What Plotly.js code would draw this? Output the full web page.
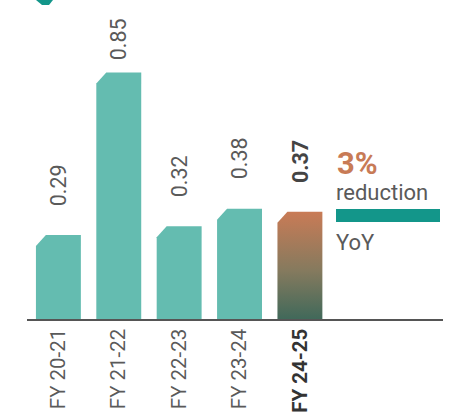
<!DOCTYPE html>
<html>
<head>
<meta charset="utf-8">
<script src="https://cdn.plot.ly/plotly-3.0.1.min.js"></script>
<style>html,body{margin:0;padding:0;background:#fff}#chart{width:449px;height:415px}</style>
</head>
<body>
<div id="chart"></div>
<script>
const categories = ['FY 20-21', 'FY 21-22', 'FY 22-23', 'FY 23-24', 'FY 24-25'];
const values = [0.29, 0.85, 0.32, 0.38, 0.37];
const valueLabels = ['0.29', '0.85', '0.32', '0.38', '0.37'];
const highlightIndex = 4;
const changeText = '3%';
const changeLabel = 'reduction';
const changePeriod = 'YoY';

const teal = '#64bcb0';
const halfW = 0.372, chamferX = 0.165, chamferY = 0.038;

const traces = values.map((v, i) => {
  const xs = [i - halfW, i - halfW, i - halfW + chamferX, i + halfW, i + halfW, i - halfW];
  const ys = [0, v - chamferY, v, v, 0, 0];
  const t = {
    type: 'scatter', mode: 'lines', x: xs, y: ys, fill: 'toself',
    line: {width: 0, color: 'rgba(0,0,0,0)'}, hoverinfo: 'skip', showlegend: false
  };
  if (i === highlightIndex) {
    t.fillcolor = '#c87b56';
    t.fillgradient = {type: 'vertical', colorscale: [[0, '#41695a'], [0.45, '#857a5e'], [1, '#c97b56']]};
  } else {
    t.fillcolor = teal;
  }
  return t;
});

const maxV = Math.max(...values);
const annotations = values.map((v, i) => ({
  x: i, y: v, xref: 'x', yref: 'y', text: i === highlightIndex ? '<b>' + valueLabels[i] + '</b>' : valueLabels[i],
  showarrow: false, textangle: -90, yanchor: 'bottom', xanchor: 'center',
  yshift: v === maxV ? 10 : 27,
  font: {family: 'Roboto', size: 21.5, color: i === highlightIndex ? '#444' : '#5a5a5a'}
}));

annotations.push(
  {xref: 'paper', yref: 'paper', x: (335 - 27) / 416, y: (319 - 163) / 319, xanchor: 'left', yanchor: 'middle',
   text: '<b>' + changeText + '</b>', showarrow: false, font: {family: 'Roboto', size: 31, color: '#c87b56'}},
  {xref: 'paper', yref: 'paper', x: (334 - 27) / 416, y: (319 - 192) / 319, xanchor: 'left', yanchor: 'middle',
   text: changeLabel, showarrow: false, font: {family: 'Roboto', size: 22, color: '#5a5a5a'}},
  {xref: 'paper', yref: 'paper', x: (334 - 27) / 416, y: (319 - 242) / 319, xanchor: 'left', yanchor: 'middle',
   text: changePeriod, showarrow: false, font: {family: 'Roboto', size: 22, color: '#5a5a5a'}}
);

const tickText = categories.map((c, i) => i === highlightIndex ? '<b><span style="color:#333">' + c + '</span></b>' : c);

const layout = {
  width: 449, height: 415,
  margin: {l: 27, r: 6, t: 0, b: 96},
  paper_bgcolor: '#fff', plot_bgcolor: '#fff',
  showlegend: false,
  xaxis: {
    range: [-0.52, 6.37], tickmode: 'array', tickvals: categories.map((c, i) => i), ticktext: tickText,
    tickangle: -90, ticks: '', showgrid: false, zeroline: false,
    showline: true, linecolor: '#555', linewidth: 1.5,
    tickfont: {family: 'Roboto', size: 20.5, color: '#5a5a5a'}, fixedrange: true
  },
  yaxis: {range: [0, 1.1], visible: false, showgrid: false, zeroline: false, fixedrange: true},
  annotations: annotations,
  shapes: [
    {type: 'rect', xref: 'paper', yref: 'paper', x0: (336 - 27) / 416, x1: (440 - 27) / 416,
     y0: (319 - 222) / 319, y1: (319 - 209) / 319, fillcolor: '#13968a', line: {width: 0}},
    {type: 'path', xref: 'paper', yref: 'paper',
     path: 'M ' + ((36 - 27) / 416) + ' ' + ((319 - 0) / 319) + ' L ' + ((42 - 27) / 416) + ' ' + ((319 - 5) / 319) +
           ' L ' + ((49 - 27) / 416) + ' ' + ((319 - 5) / 319) + ' L ' + ((53 - 27) / 416) + ' ' + ((319 - 0) / 319) + ' Z',
     fillcolor: '#13968a', line: {width: 0}}
  ]
};

Plotly.newPlot('chart', traces, layout, {displayModeBar: false, staticPlot: true});
</script>
</body>
</html>
